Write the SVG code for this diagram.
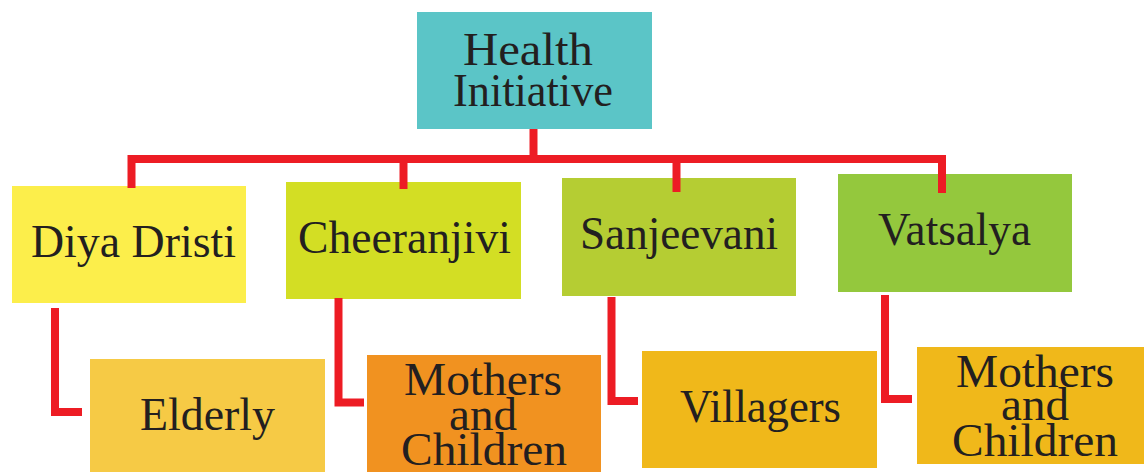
<svg xmlns="http://www.w3.org/2000/svg" width="1144" height="472" viewBox="0 0 1144 472">
<style>
.t{fill:#231f20;text-anchor:middle}
.c{fill:none;stroke:#ed1c24;stroke-width:8;stroke-linejoin:miter;stroke-linecap:butt}
</style>
<rect width="1144" height="472" fill="#ffffff"/>
<g font-family="Liberation Serif, serif" font-size="46">
<g id="health">
<rect x="417" y="12" width="235" height="117" fill="#5bc5c7"/>
<text class="t" x="528" y="65" textLength="130" lengthAdjust="spacingAndGlyphs">Health</text>
<text class="t" x="533" y="106" textLength="160" lengthAdjust="spacingAndGlyphs">Initiative</text>
</g>
<g id="diya">
<rect x="12" y="186" width="234" height="117" fill="#fcee4b"/>
<text class="t" x="133.5" y="257" textLength="205" lengthAdjust="spacingAndGlyphs">Diya Dristi</text>
</g>
<g id="cheeranjivi">
<rect x="286" y="182" width="235" height="117" fill="#d3de24"/>
<text class="t" x="404.5" y="253" textLength="213" lengthAdjust="spacingAndGlyphs">Cheeranjivi</text>
</g>
<g id="sanjeevani">
<rect x="562" y="178" width="234" height="118" fill="#b5cd33"/>
<text class="t" x="679" y="249" textLength="198" lengthAdjust="spacingAndGlyphs">Sanjeevani</text>
</g>
<g id="vatsalya">
<rect x="838" y="174" width="234" height="118" fill="#94c83d"/>
<text class="t" x="954.5" y="245" textLength="153" lengthAdjust="spacingAndGlyphs">Vatsalya</text>
</g>
<g id="elderly">
<rect x="90" y="359" width="235" height="113" fill="#f6ca45"/>
<text class="t" x="207.5" y="430" textLength="135" lengthAdjust="spacingAndGlyphs">Elderly</text>
</g>
<g id="mothers1">
<rect x="367" y="355" width="234" height="117" fill="#f19220"/>
<text class="t" x="483" y="395" textLength="158" lengthAdjust="spacingAndGlyphs">Mothers</text>
<text class="t" x="483" y="430" textLength="68" lengthAdjust="spacingAndGlyphs">and</text>
<text class="t" x="484" y="465" textLength="166" lengthAdjust="spacingAndGlyphs">Children</text>
</g>
<g id="villagers">
<rect x="642" y="351" width="235" height="117" fill="#f0b81a"/>
<text class="t" x="760.5" y="422" textLength="161" lengthAdjust="spacingAndGlyphs">Villagers</text>
</g>
<g id="mothers2">
<rect x="917" y="347" width="227" height="117" fill="#f0b81a"/>
<text class="t" x="1035" y="387" textLength="158" lengthAdjust="spacingAndGlyphs">Mothers</text>
<text class="t" x="1035" y="420" textLength="68" lengthAdjust="spacingAndGlyphs">and</text>
<text class="t" x="1035" y="456" textLength="166" lengthAdjust="spacingAndGlyphs">Children</text>
</g>
</g>
<g id="connectors">
<path class="c" d="M533.5 129 V159"/>
<path class="c" d="M131.5 188 V159 H942 V193"/>
<path class="c" d="M403.5 159 V189"/>
<path class="c" d="M676.5 159 V192"/>
<path class="c" d="M55 308 V412 H82"/>
<path class="c" d="M338.5 298 V402.5 H364"/>
<path class="c" d="M611.5 297 V401 H638"/>
<path class="c" d="M885 295 V399 H912"/>
</g>
</svg>
